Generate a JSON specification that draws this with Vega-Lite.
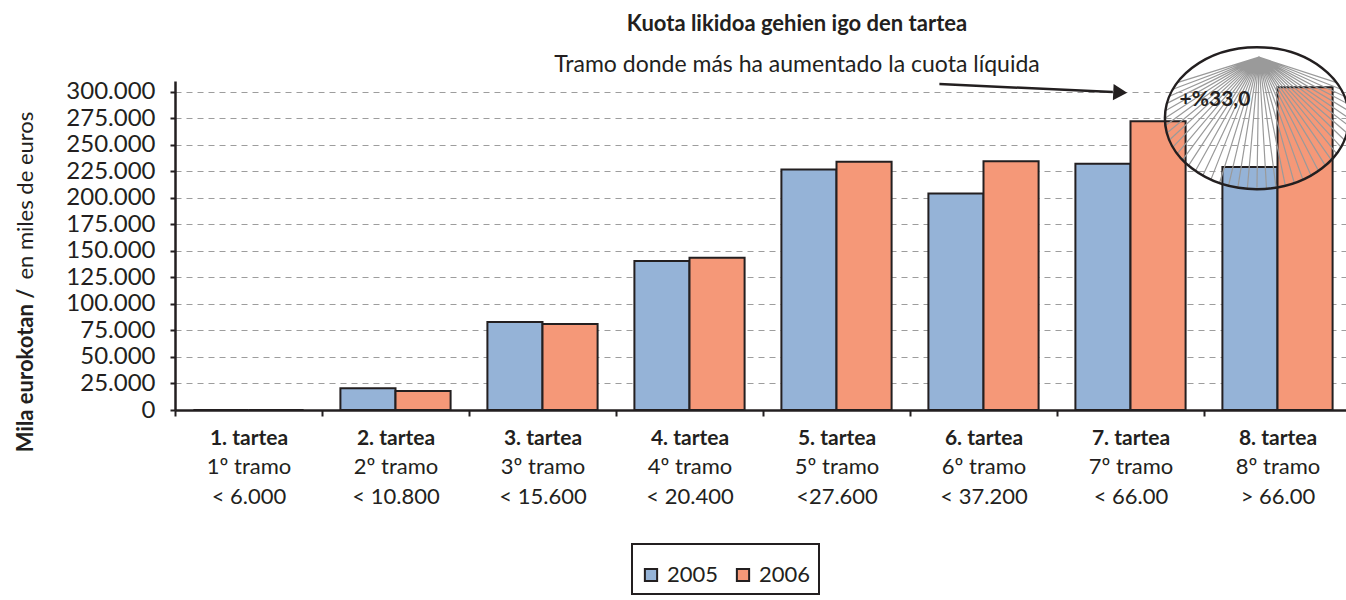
{
  "$schema": "https://vega.github.io/schema/vega-lite/v6.json",
  "width": 1176,
  "height": 329,
  "autosize": "none",
  "padding": {"left": 175, "top": 81, "right": 0, "bottom": 190},
  "background": "white",
  "config": {
    "font": "Lato",
    "view": {"stroke": null},
    "legend": {"strokeWidth": 2}
  },
  "title": {
    "text": "Kuota likidoa gehien igo den tartea",
    "subtitle": "Tramo donde más ha aumentado la cuota líquida",
    "anchor": "middle",
    "dx": 34,
    "offset": -36,
    "fontSize": 22,
    "fontWeight": "bold",
    "color": "#231f20",
    "subtitleFontSize": 23,
    "subtitleColor": "#231f20",
    "subtitlePadding": 18
  },
  "datasets": {
    "bars": [
      {"tramo": "1. tartea|1º tramo|< 6.000", "year": "2005", "value": 0},
      {"tramo": "1. tartea|1º tramo|< 6.000", "year": "2006", "value": 0},
      {"tramo": "2. tartea|2º tramo|< 10.800", "year": "2005", "value": 20500},
      {"tramo": "2. tartea|2º tramo|< 10.800", "year": "2006", "value": 18000},
      {"tramo": "3. tartea|3º tramo|< 15.600", "year": "2005", "value": 83000},
      {"tramo": "3. tartea|3º tramo|< 15.600", "year": "2006", "value": 81000},
      {"tramo": "4. tartea|4º tramo|< 20.400", "year": "2005", "value": 140500},
      {"tramo": "4. tartea|4º tramo|< 20.400", "year": "2006", "value": 143500},
      {"tramo": "5. tartea|5º tramo|<27.600", "year": "2005", "value": 226500},
      {"tramo": "5. tartea|5º tramo|<27.600", "year": "2006", "value": 234000},
      {"tramo": "6. tartea|6º tramo|< 37.200", "year": "2005", "value": 204000},
      {"tramo": "6. tartea|6º tramo|< 37.200", "year": "2006", "value": 234500},
      {"tramo": "7. tartea|7º tramo|< 66.00", "year": "2005", "value": 232000},
      {"tramo": "7. tartea|7º tramo|< 66.00", "year": "2006", "value": 272000},
      {"tramo": "8. tartea|8º tramo|> 66.00", "year": "2005", "value": 229000},
      {"tramo": "8. tartea|8º tramo|> 66.00", "year": "2006", "value": 304000}
    ],
    "arrow": [{"x1": 5.2, "y1": 307200, "x2": 6.38, "y2": 299600}],
    "arrowhead": [{"x": 6.43, "y": 299200}],
    "ellipse": [{"x": 7.36, "y": 275000}],
    "note": [{"x": 7.075, "y": 292000, "text": "+%33,0"}]
  },
  "layer": [
    {
      "data": {"name": "bars"},
      "mark": {"type": "bar", "stroke": "#231f20", "strokeWidth": 2},
      "encoding": {
        "x": {
          "field": "tramo", "type": "nominal", "sort": null,
          "scale": {"paddingInner": 0, "paddingOuter": 0},
          "axis": {
            "orient": "bottom", "title": null,
            "labelExpr": "datum.value ? split(datum.value, '|')[0] : ''",
            "labelAngle": 0, "labelFontSize": 21, "labelFontWeight": "bold",
            "labelColor": "#231f20", "labelBaseline": "top", "labelPadding": 11,
            "labelOverlap": false, "labelBound": false, "labelLimit": 0,
            "tickBand": "extent", "tickSize": 6, "tickWidth": 2, "tickColor": "#231f20",
            "domainColor": "#231f20", "domainWidth": 2.5, "grid": false
          }
        },
        "xOffset": {"field": "year", "type": "nominal", "scale": {"paddingInner": 0, "paddingOuter": 0.334}},
        "y": {
          "field": "value", "type": "quantitative",
          "scale": {"domain": [0, 310000], "nice": false},
          "axis": {
            "values": [0, 25000, 50000, 75000, 100000, 125000, 150000, 175000, 200000, 225000, 250000, 275000, 300000],
            "labelExpr": "replace(format(datum.value, ','), ',', '.')",
            "labelFontSize": 24, "labelColor": "#231f20", "labelPadding": 15,
            "tickSize": 5, "tickColor": "#231f20", "tickWidth": 2,
            "domainColor": "#231f20", "domainWidth": 2.5,
            "grid": true, "gridColor": "#9d9d9d", "gridDash": [6, 5], "gridWidth": 1.2,
            "title": "Mila eurokotan /", "titleFontWeight": "bold", "titleFontSize": 22,
            "titleColor": "#231f20", "titleAngle": 270, "titleAlign": "right",
            "titleBaseline": "middle", "titleX": -150, "titleY": 207
          }
        },
        "color": {
          "field": "year", "type": "nominal",
          "scale": {"domain": ["2005", "2006"], "range": ["#95b3d7", "#f59878"]},
          "legend": {
            "orient": "none", "legendX": 457, "legendY": 463, "direction": "horizontal",
            "title": " ", "titleFontSize": 8, "titlePadding": 4,
            "strokeColor": "#231f20", "padding": 8,
            "symbolType": "square", "symbolSize": 150, "symbolStrokeColor": "#231f20",
            "symbolStrokeWidth": 2, "symbolOpacity": 1,
            "labelFontSize": 22, "labelColor": "#231f20", "columnPadding": 13, "labelOffset": 5
          }
        }
      }
    },
    {
      "data": {"name": "bars"},
      "mark": {"type": "point", "opacity": 0},
      "encoding": {
        "x": {
          "field": "tramo", "type": "nominal", "sort": null,
          "scale": {"paddingInner": 0, "paddingOuter": 0},
          "axis": {
            "orient": "bottom", "title": null,
            "labelExpr": "datum.value ? slice(split(datum.value, '|'), 1) : ''",
            "labelAngle": 0, "labelFontSize": 22, "labelLineHeight": 30,
            "labelColor": "#231f20", "labelBaseline": "top", "labelPadding": 46,
            "labelOverlap": false, "labelBound": false, "labelLimit": 0,
            "ticks": false, "tickSize": 0, "domain": false, "grid": false
          }
        }
      }
    },
    {
      "data": {"name": "ellipse"},
      "mark": {
        "type": "point", "filled": false, "opacity": 1, "size": 40000,
        "stroke": "#9a9a9a", "strokeWidth": 1.2,
        "shape": "M0.02,-0.61L0.797,-0.355M0.02,-0.61L0.841,-0.289M0.02,-0.61L0.875,-0.219M0.02,-0.61L0.9,-0.148M0.02,-0.61L0.915,-0.074M0.02,-0.61L0.92,0M0.02,-0.61L0.915,0.074M0.02,-0.61L0.9,0.148M0.02,-0.61L0.875,0.219M0.02,-0.61L0.841,0.289M0.02,-0.61L0.797,0.355M0.02,-0.61L0.744,0.417M0.02,-0.61L0.684,0.475M0.02,-0.61L0.616,0.528M0.02,-0.61L0.541,0.574M0.02,-0.61L0.46,0.615M0.02,-0.61L0.374,0.649M0.02,-0.61L0.284,0.675M0.02,-0.61L0.191,0.694M0.02,-0.61L0.096,0.706M0.02,-0.61L0,0.71M0.02,-0.61L-0.096,0.706M0.02,-0.61L-0.191,0.694M0.02,-0.61L-0.284,0.675M0.02,-0.61L-0.374,0.649M0.02,-0.61L-0.46,0.615M0.02,-0.61L-0.541,0.574M0.02,-0.61L-0.616,0.528M0.02,-0.61L-0.684,0.475M0.02,-0.61L-0.744,0.417M0.02,-0.61L-0.797,0.355M0.02,-0.61L-0.841,0.289M0.02,-0.61L-0.875,0.219M0.02,-0.61L-0.9,0.148M0.02,-0.61L-0.915,0.074M0.02,-0.61L-0.92,0M0.02,-0.61L-0.915,-0.074M0.02,-0.61L-0.9,-0.148M0.02,-0.61L-0.875,-0.219M0.02,-0.61L-0.841,-0.289M0.02,-0.61L-0.797,-0.355"
      },
      "encoding": {
        "x": {"field": "x", "type": "quantitative", "scale": {"domain": [0, 8], "nice": false, "zero": false}, "axis": null},
        "y": {"field": "y", "type": "quantitative", "scale": {"domain": [0, 310000], "nice": false}, "axis": null}
      }
    },
    {
      "data": {"name": "ellipse"},
      "mark": {
        "type": "point", "filled": false, "opacity": 1, "size": 40000,
        "stroke": "#231f20", "strokeWidth": 2.5,
        "shape": "M-0.92,0A0.92,0.71 0 1,0 0.92,0A0.92,0.71 0 1,0 -0.92,0Z"
      },
      "encoding": {
        "x": {"field": "x", "type": "quantitative", "scale": {"domain": [0, 8], "nice": false, "zero": false}, "axis": null},
        "y": {"field": "y", "type": "quantitative", "scale": {"domain": [0, 310000], "nice": false}, "axis": null}
      }
    },
    {
      "data": {"name": "arrow"},
      "mark": {"type": "rule", "stroke": "#231f20", "strokeWidth": 2.5},
      "encoding": {
        "x": {"field": "x1", "type": "quantitative", "scale": {"domain": [0, 8], "nice": false, "zero": false}, "axis": null},
        "x2": {"field": "x2"},
        "y": {"field": "y1", "type": "quantitative", "scale": {"domain": [0, 310000], "nice": false}, "axis": null},
        "y2": {"field": "y2"}
      }
    },
    {
      "data": {"name": "arrowhead"},
      "mark": {"type": "point", "shape": "triangle-right", "filled": true, "opacity": 1, "size": 260, "color": "#231f20", "angle": 2.7},
      "encoding": {
        "x": {"field": "x", "type": "quantitative", "scale": {"domain": [0, 8], "nice": false, "zero": false}, "axis": null},
        "y": {"field": "y", "type": "quantitative", "scale": {"domain": [0, 310000], "nice": false}, "axis": null}
      }
    },
    {
      "data": {"name": "note"},
      "mark": {"type": "text", "fontWeight": "bold", "fontSize": 21, "color": "#231f20", "align": "center", "baseline": "middle"},
      "encoding": {
        "x": {"field": "x", "type": "quantitative", "scale": {"domain": [0, 8], "nice": false, "zero": false}, "axis": null},
        "y": {
          "field": "y", "type": "quantitative", "scale": {"domain": [0, 310000], "nice": false},
          "axis": {
            "orient": "left", "labels": false, "ticks": false, "domain": false, "grid": false,
            "title": "en miles de euros", "titleFontWeight": "normal", "titleFontSize": 22,
            "titleColor": "#231f20", "titleAngle": 270, "titleAlign": "left",
            "titleBaseline": "middle", "titleX": -150, "titleY": 198
          }
        },
        "text": {"field": "text", "type": "nominal"}
      }
    }
  ],
  "resolve": {"scale": {"x": "independent"}, "axis": {"x": "independent", "y": "independent"}}
}
